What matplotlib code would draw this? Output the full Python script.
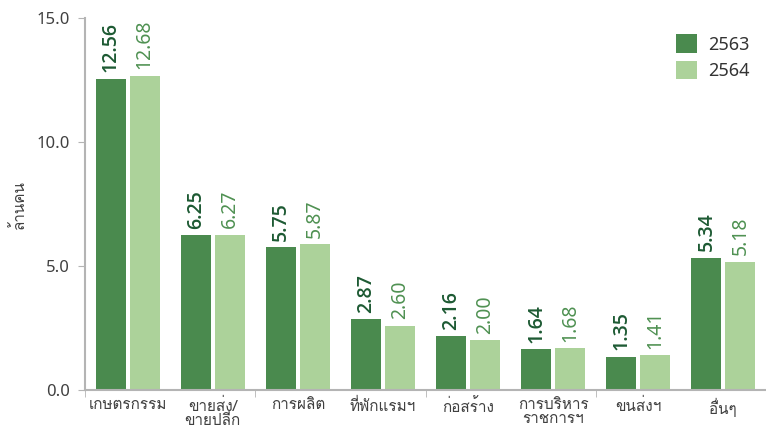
import matplotlib
matplotlib.use("Agg")
import matplotlib.pyplot as plt
import numpy as np
from matplotlib import font_manager
from matplotlib.ft2font import FT2Font

categories = ["เกษตรกรรม", "ขายส่ง/\nขายปลีก", "การผลิต", "ที่พักแรมฯ", "ก่อสร้าง",
              "การบริหาร\nราชการฯ", "ขนส่งฯ", "อื่นๆ"]
series_names = ["2563", "2564"]
values_2563 = [12.56, 6.25, 5.75, 2.87, 2.16, 1.64, 1.35, 5.34]
values_2564 = [12.68, 6.27, 5.87, 2.60, 2.00, 1.68, 1.41, 5.18]
y_ticks = [0.0, 5.0, 10.0, 15.0]
y_label = "ล้านคน"

# find a font with Thai glyphs
thai_family = None
for f in font_manager.fontManager.ttflist:
    try:
        ft = FT2Font(f.fname)
        if 0x0E01 in ft.get_charmap():
            thai_family = f.name
            break
    except Exception:
        pass
fams = ([thai_family] if thai_family else []) + ["DejaVu Sans"]
plt.rcParams['font.family'] = fams
num_fams = ["Noto Sans", "DejaVu Sans"]
bold_fams = ["Open Sans", "DejaVu Sans"]

dark = "#4a8a4e"
light = "#acd29a"
dark_txt = "#1d5a33"
light_txt = "#4f9152"
grey = "#b4b4b4"
tick_txt = "#404040"

fig = plt.figure(figsize=(7.66, 4.29), dpi=100)
ax = fig.add_axes([85/766, 1-390/429, 681/766, (390-18)/429])

n = len(categories)
x = np.arange(n)
w = 0.353
off = 0.2
ax.bar(x - off, values_2563, width=w, color=dark, label=series_names[0])
ax.bar(x + off, values_2564, width=w, color=light, label=series_names[1])

for xi, v in zip(x, values_2563):
    ax.text(xi - off, v + 0.25, f"{v:.2f}", rotation=90, ha="center", va="bottom",
            color=dark_txt, fontsize=14, fontweight="semibold", family=bold_fams)
for xi, v in zip(x, values_2564):
    ax.text(xi + off, v + 0.25, f"{v:.2f}", rotation=90, ha="center", va="bottom",
            color=light_txt, fontsize=14, family=num_fams)

ax.set_xlim(-0.5, n - 0.5)
ax.set_ylim(0, 15)
ax.set_yticks(y_ticks)
ax.set_yticklabels([f"{t:.1f}" for t in y_ticks], color=tick_txt, fontsize=12,
                   family=num_fams)
ax.set_xticks(x)
ax.set_xticklabels(categories, fontsize=11, color=tick_txt, linespacing=0.95)
ax.tick_params(axis="x", length=0, pad=6)
ax.set_xticks([-0.5, 1.5, 3.5, 5.5, 7.5], minor=True)
ax.tick_params(axis="x", which="minor", length=5, color=grey)
ax.tick_params(axis="y", length=5, color=grey, pad=6)

for s in ["top", "right"]:
    ax.spines[s].set_visible(False)
ax.spines["left"].set_color(grey)
ax.spines["bottom"].set_color(grey)
ax.spines["left"].set_linewidth(1.5)
ax.spines["bottom"].set_linewidth(1.5)

fig.text(18/766, 1-205/429, y_label, rotation=90, ha="center", va="center",
         fontsize=11, color=tick_txt)

leg = ax.legend(loc="upper right", bbox_to_anchor=(1.0, 1.0), frameon=False,
                prop={"family": num_fams, "size": 13}, handlelength=1.2,
                handleheight=1.2, labelspacing=0.4, handletextpad=0.6)
for t in leg.get_texts():
    t.set_color("#333333")

fig.savefig("out.png", dpi=100)
